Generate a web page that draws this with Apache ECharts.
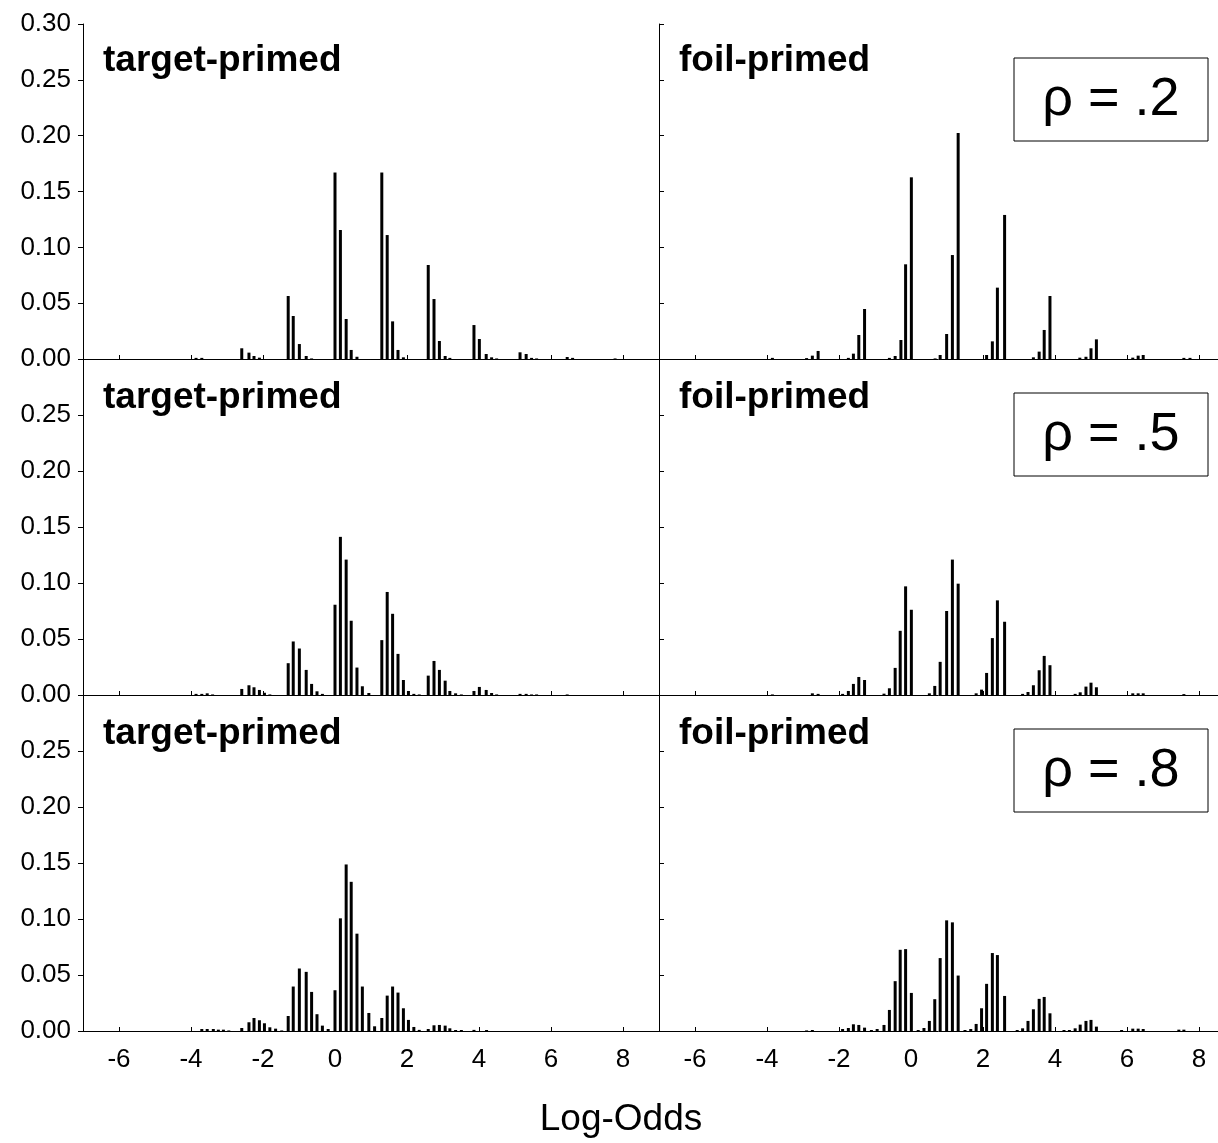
<!DOCTYPE html>
<html><head><meta charset="utf-8">
<script src="https://cdn.jsdelivr.net/npm/echarts@6/dist/echarts.min.js"></script>
<style>html,body{margin:0;padding:0;background:#fff}#c{width:1218px;height:1143px}</style>
</head><body><div id="c"></div>
<script>
// ---- data (log-odds value, proportion) ----
const panelTitles = ['target-primed', 'foil-primed'];
const rhoLabels = ['\u03c1 = .2', '\u03c1 = .5', '\u03c1 = .8'];
const xTickValues = [-6, -4, -2, 0, 2, 4, 6, 8];
const xAxisTitle = 'Log-Odds';

const targetRho2 = [[-3.86,0.001],[-3.70,0.001],[-2.59,0.0096],[-2.39,0.0057],[-2.25,0.0027],[-2.10,0.0012],
  [-1.30,0.0564],[-1.16,0.0385],[-0.99,0.0134],[-0.80,0.0027],[-0.65,0.0005],
  [0.00,0.167],[0.15,0.1155],[0.31,0.0358],[0.45,0.0081],[0.61,0.002],
  [1.30,0.167],[1.45,0.111],[1.60,0.0337],[1.75,0.0081],[1.90,0.0015],
  [2.59,0.0842],[2.75,0.0537],[2.90,0.0161],[3.06,0.0027],[3.19,0.001],
  [3.86,0.0304],[4.01,0.0179],[4.20,0.0045],[4.35,0.0015],[4.49,0.0005],
  [5.14,0.006],[5.31,0.0045],[5.46,0.001],[5.60,0.0005],
  [6.45,0.0018],[6.60,0.001],[7.78,0.0005]];
const foilRho2 = [[-3.85,0.001],[-2.90,0.0008],[-2.74,0.003],[-2.58,0.0072],
  [-1.74,0.001],[-1.60,0.0048],[-1.45,0.0215],[-1.29,0.0448],
  [-0.60,0.001],[-0.44,0.0027],[-0.28,0.017],[-0.15,0.0848],[0.01,0.1627],
  [0.67,0.0005],[0.81,0.0036],[0.99,0.0224],[1.15,0.0931],[1.31,0.2024],
  [2.10,0.0036],[2.26,0.0158],[2.40,0.0639],[2.60,0.129],
  [3.40,0.0015],[3.56,0.0066],[3.70,0.026],[3.86,0.0564],
  [4.69,0.0012],[4.86,0.002],[5.00,0.0096],[5.15,0.0176],
  [6.16,0.0012],[6.31,0.003],[6.45,0.0036],
  [7.58,0.001],[7.75,0.001]];
const targetRho5 = [[-3.86,0.001],[-3.70,0.001],[-3.55,0.0015],[-3.40,0.0005],
  [-2.59,0.0054],[-2.39,0.0087],[-2.25,0.0069],[-2.10,0.0045],[-1.96,0.002],[-1.81,0.0005],
  [-1.30,0.0284],[-1.16,0.0478],[-0.99,0.0415],[-0.80,0.0224],[-0.65,0.0099],[-0.50,0.0033],[-0.35,0.001],
  [0.00,0.0806],[0.15,0.1412],[0.31,0.1209],[0.45,0.0663],[0.61,0.0245],[0.76,0.0078],[0.94,0.0018],
  [1.30,0.049],[1.45,0.092],[1.60,0.0725],[1.75,0.0367],[1.90,0.0134],[2.04,0.0036],[2.19,0.001],[2.34,0.0005],
  [2.59,0.0173],[2.75,0.0304],[2.90,0.0224],[3.06,0.0128],[3.19,0.0036],[3.35,0.0015],[3.51,0.0005],
  [3.86,0.0036],[4.01,0.0072],[4.20,0.0045],[4.35,0.0018],[4.49,0.0005],
  [5.14,0.001],[5.31,0.001],[5.46,0.0005],[5.60,0.0005],
  [6.45,0.0005]];
const foilRho5 = [[-3.85,0.0005],[-2.74,0.0015],[-2.58,0.001],
  [-1.90,0.001],[-1.74,0.0036],[-1.60,0.0099],[-1.45,0.0161],[-1.29,0.0134],
  [-0.75,0.0012],[-0.60,0.006],[-0.44,0.0242],[-0.30,0.0573],[-0.15,0.097],[0.01,0.0761],
  [0.51,0.0015],[0.66,0.0081],[0.81,0.0296],[0.99,0.075],[1.15,0.1209],[1.31,0.0994],
  [1.81,0.0015],[1.96,0.0048],[2.10,0.0197],[2.26,0.0508],[2.40,0.0845],[2.60,0.0654],
  [3.10,0.001],[3.25,0.0027],[3.40,0.0087],[3.56,0.0221],[3.70,0.0349],[3.86,0.0266],
  [4.56,0.001],[4.70,0.0024],[4.86,0.0075],[5.00,0.011],[5.15,0.0069],
  [6.16,0.0015],[6.31,0.0015],[6.45,0.0015],
  [7.58,0.0008]];
const targetRho8 = [[-3.70,0.0018],[-3.55,0.0018],[-3.38,0.0018],[-3.24,0.0012],[-3.10,0.0012],[-2.95,0.0005],
  [-2.59,0.0027],[-2.39,0.0078],[-2.25,0.0116],[-2.10,0.0096],[-1.96,0.0069],[-1.81,0.0033],[-1.65,0.0021],[-1.48,0.0005],
  [-1.30,0.0134],[-1.16,0.0397],[-0.99,0.0558],[-0.80,0.0528],[-0.65,0.0349],[-0.50,0.015],[-0.35,0.0048],[-0.19,0.0018],
  [0.00,0.0364],[0.15,0.1006],[0.31,0.1487],[0.45,0.1332],[0.61,0.0869],[0.76,0.0397],[0.94,0.0161],[1.10,0.0042],
  [1.30,0.0116],[1.45,0.0316],[1.60,0.0397],[1.75,0.0343],[1.90,0.0203],[2.04,0.0099],[2.19,0.0036],[2.34,0.001],
  [2.59,0.0018],[2.75,0.0051],[2.90,0.0054],[3.06,0.0048],[3.19,0.0024],[3.35,0.0009],[3.51,0.0009],
  [3.86,0.001],[4.21,0.0009]];
const foilRho8 = [[-2.90,0.0005],[-2.74,0.0009],
  [-1.90,0.0018],[-1.74,0.0027],[-1.60,0.006],[-1.45,0.0054],[-1.29,0.003],[-1.10,0.0009],[-0.94,0.0018],
  [-0.75,0.0054],[-0.60,0.0188],[-0.44,0.0445],[-0.30,0.0725],[-0.15,0.0731],[0.01,0.034],
  [0.20,0.0009],[0.36,0.0027],[0.51,0.009],[0.66,0.0284],[0.81,0.0651],[0.99,0.0988],[1.15,0.097],[1.31,0.0495],
  [1.50,0.0009],[1.66,0.0018],[1.81,0.0063],[1.96,0.0203],[2.10,0.0421],[2.26,0.0696],[2.40,0.0678],[2.60,0.0313],
  [2.95,0.0009],[3.10,0.0024],[3.25,0.009],[3.40,0.0194],[3.56,0.0287],[3.70,0.0304],[3.86,0.0158],
  [4.25,0.0009],[4.40,0.0009],[4.56,0.0024],[4.70,0.0057],[4.86,0.009],[5.00,0.0099],[5.15,0.0039],
  [5.85,0.0009],[6.16,0.0021],[6.31,0.0021],[6.45,0.0018],
  [7.44,0.0012],[7.58,0.0012]];

const panelData = [[targetRho2, foilRho2], [targetRho5, foilRho5], [targetRho8, foilRho8]];

// ---- layout ----
const FONT = '"Liberation Sans", Arial, Helvetica, sans-serif';
const colLeft = [83, 659];
const colWidth = [576, 559];
const colMax = [9, -7 + 559 / 36];
const rowTop = [24, 359, 695];
const rowH = [335, 336, 336];

const grids = [], xAxes = [], yAxes = [], series = [], graphics = [];
let k = 0;
for (let r = 0; r < 3; r++) {
  for (let c = 0; c < 2; c++) {
    grids.push({left: colLeft[c], top: rowTop[r], width: colWidth[c], height: rowH[r], containLabel: false});
    xAxes.push({
      type: 'value', gridIndex: k, min: -7, max: colMax[c],
      axisLine: {show: true, onZero: false, lineStyle: {color: '#000', width: 1}},
      axisTick: {show: true, inside: true, length: 4, customValues: xTickValues, lineStyle: {color: '#000', width: 1}},
      axisLabel: {show: r === 2, customValues: xTickValues, color: '#000', fontSize: 26, fontFamily: FONT, margin: 16},
      splitLine: {show: false}
    });
    yAxes.push({
      type: 'value', gridIndex: k, min: 0, max: 0.30, interval: 0.05,
      axisLine: {show: true, onZero: false, lineStyle: {color: '#000', width: 1}},
      axisTick: {show: true, inside: c === 1, length: 5, lineStyle: {color: '#000', width: 1}},
      axisLabel: {show: c === 0, color: '#000', fontSize: 26, fontFamily: FONT, margin: 12,
        formatter: v => (r > 0 && v > 0.29) ? '' : v.toFixed(2)},
      splitLine: {show: false}
    });
    series.push({
      type: 'bar', xAxisIndex: k, yAxisIndex: k, data: panelData[r][c],
      barWidth: 3, itemStyle: {color: '#000'}, silent: true, animation: false
    });
    graphics.push({
      type: 'text', x: colLeft[c] + 20, y: rowTop[r] + 37 + (r > 0 ? 2 : 0),
      style: {text: panelTitles[c], font: 'bold 37px ' + FONT, fill: '#000', textAlign: 'left', textVerticalAlign: 'middle'}
    });
    k++;
  }
  const boxTop = [58, 393, 729][r];
  graphics.push({
    type: 'rect', shape: {x: 1014, y: boxTop, width: 194, height: 83},
    style: {fill: '#fff', stroke: '#000', lineWidth: 1}
  });
  graphics.push({
    type: 'text', x: 1111, y: boxTop + 42,
    style: {text: rhoLabels[r], font: '54px ' + FONT, fill: '#000', textAlign: 'center', textVerticalAlign: 'middle'}
  });
}
graphics.push({
  type: 'text', x: 621, y: 1120,
  style: {text: xAxisTitle, font: '37px ' + FONT, fill: '#000', textAlign: 'center', textVerticalAlign: 'middle'}
});

const chart = echarts.init(document.getElementById('c'), null, {renderer: 'canvas'});
chart.setOption({
  animation: false,
  backgroundColor: '#fff',
  grid: grids, xAxis: xAxes, yAxis: yAxes, series: series, graphic: graphics
});
</script></body></html>
